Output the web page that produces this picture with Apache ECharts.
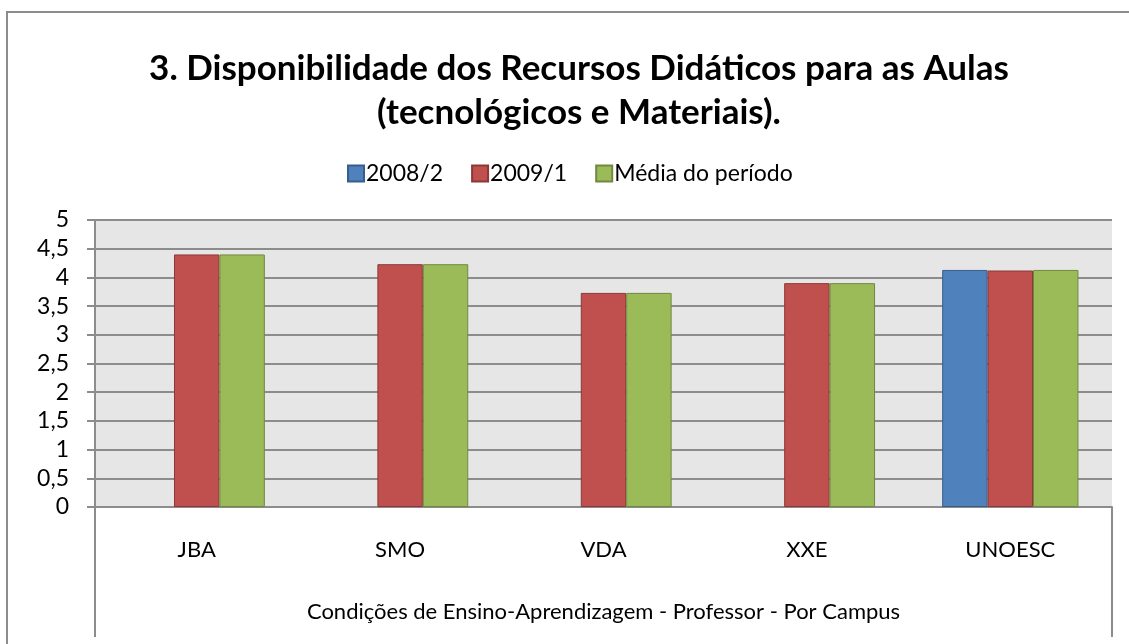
<!DOCTYPE html>
<html>
<head>
<meta charset="utf-8">
<script src="https://cdn.jsdelivr.net/npm/echarts@6/dist/echarts.min.js"></script>
<style>
  html, body { margin: 0; padding: 0; background: #fff; }
  #chart { width: 1129px; height: 644px; }
</style>
</head>
<body>
<div id="chart"></div>
<script>
// dados
var campus = ['JBA', 'SMO', 'VDA', 'XXE', 'UNOESC'];
var grupo = ['Condições de Ensino-Aprendizagem - Professor - Por Campus'];
var serieNomes = ['2008/2', '2009/1', 'Média do período'];
var s2008_2 = [null, null, null, null, 4.13];
var s2009_1 = [4.40, 4.23, 3.73, 3.90, 4.12];
var sMedia = [4.40, 4.23, 3.73, 3.90, 4.13];

var fonte = 'Lato, "Open Sans", sans-serif';

var chart = echarts.init(document.getElementById('chart'));

function barra(nome, dados, cor, borda) {
    return {
        name: nome,
        type: 'bar',
        data: dados,
        barGap: '0%',
        barCategoryGap: '33%',
        itemStyle: { color: cor, borderColor: borda, borderWidth: 1 },
        emphasis: { disabled: true }
    };
}

var option = {
    animation: false,
    textStyle: { fontFamily: fonte },
    title: {
        text: '3. Disponibilidade dos Recursos Didáticos para as Aulas\n(tecnológicos e Materiais).',
        left: 574,
        top: 42,
        textAlign: 'center',
        textStyle: {
            fontFamily: fonte,
            fontWeight: 'bold',
            fontSize: 35,
            lineHeight: 44,
            color: '#000'
        }
    },
    legend: {
        data: serieNomes,
        left: 342,
        top: 157,
        itemWidth: 16,
        itemHeight: 16,
        itemGap: 28,
        icon: 'rect',
        textStyle: { fontFamily: fonte, fontSize: 23, color: '#000', padding: [0, 0, 0, -3] }
    },
    grid: {
        left: 95,
        right: 17,
        top: 220,
        bottom: 137,
        show: true,
        backgroundColor: '#e6e6e6',
        borderWidth: 0
    },
    xAxis: [{
        type: 'category',
        data: campus,
        axisLine: { lineStyle: { color: '#8c8c8c', width: 2 } },
        axisTick: { show: false },
        axisLabel: { margin: 32, fontSize: 22, color: '#000', fontFamily: fonte }
    }, {
        type: 'category',
        position: 'bottom',
        data: grupo,
        axisLine: { show: false },
        axisTick: { show: true, length: 130, lineStyle: { color: '#8c8c8c', width: 2 } },
        axisLabel: { margin: 94, fontSize: 22, color: '#000', fontFamily: fonte }
    }],
    yAxis: {
        type: 'value',
        min: 0,
        max: 5,
        interval: 0.5,
        axisLine: { show: true, lineStyle: { color: '#8c8c8c', width: 2 } },
        axisTick: { show: true, length: 8, lineStyle: { color: '#8c8c8c', width: 2 } },
        splitLine: { lineStyle: { color: '#8c8c8c', width: 2 } },
        axisLabel: {
            margin: 26,
            fontSize: 23,
            color: '#000',
            fontFamily: fonte,
            formatter: function (v) { return String(v).replace('.', ','); }
        }
    },
    graphic: [{
        type: 'rect',
        shape: { x: 7, y: 12, width: 1300, height: 800 },
        style: { fill: null, stroke: '#8c8c8c', lineWidth: 2 },
        silent: true
    }],
    series: [
        barra(serieNomes[0], s2008_2, '#4f81bd', '#385d8a'),
        barra(serieNomes[1], s2009_1, '#c0504d', '#8c3836'),
        barra(serieNomes[2], sMedia, '#9bbb59', '#71893f')
    ]
};

chart.setOption(option);
</script>
</body>
</html>
